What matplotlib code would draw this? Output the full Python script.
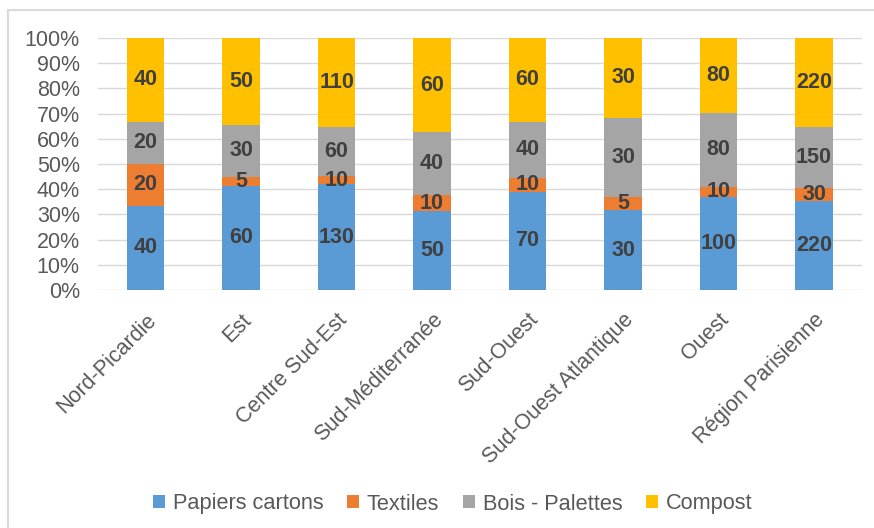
import numpy as np
import matplotlib.pyplot as plt
from matplotlib.patches import Rectangle

regions = ['Nord-Picardie', 'Est', 'Centre Sud-Est', 'Sud-Méditerranée',
           'Sud-Ouest', 'Sud-Ouest Atlantique', 'Ouest', 'Région Parisienne']
papiers = [40, 60, 130, 50, 70, 30, 100, 220]
textiles = [20, 5, 10, 10, 10, 5, 10, 30]
bois = [20, 30, 60, 40, 40, 30, 80, 150]
compost = [40, 50, 110, 60, 60, 30, 80, 220]

series = [('Papiers cartons', papiers, '#5B9BD5'),
          ('Textiles', textiles, '#ED7D31'),
          ('Bois - Palettes', bois, '#A5A5A5'),
          ('Compost', compost, '#FFC000')]

plt.rcParams['font.family'] = ['Liberation Sans', 'DejaVu Sans']

fig = plt.figure(figsize=(8.74, 5.28), dpi=100)
ax = fig.add_axes([0.112, 0.451, 0.874, 0.477])

# light border around the chart area
fig.patches.append(Rectangle((8 / 874, -0.05), 1.0, 1 - 10 / 528 + 0.05,
                             transform=fig.transFigure, fill=False,
                             edgecolor='#D9D9D9', linewidth=1.5))

x = np.arange(len(regions))
totals = np.sum([s[1] for s in series], axis=0)
bottom = np.zeros(len(regions))
for name, vals, col in series:
    frac = np.array(vals) / totals
    ax.bar(x, frac, 0.39, bottom=bottom, color=col, label=name, zorder=3)
    for xi, b, f, v in zip(x, bottom, frac, vals):
        ax.text(xi, b + f / 2, str(v), ha='center', va='center',
                fontsize=15.5, fontweight='bold', color='#404040', zorder=4)
    bottom += frac

ax.set_xlim(-0.5, len(regions) - 0.5)
ax.set_ylim(0, 1)
ax.set_yticks(np.arange(0, 1.01, 0.1))
ax.set_yticklabels([f'{int(round(t * 100))}%' for t in np.arange(0, 1.01, 0.1)])
ax.set_xticks(x)
ax.set_xticklabels(regions, rotation=45, ha='right', rotation_mode='anchor')
ax.tick_params(axis='both', length=0, labelsize=15.5, colors='#595959')
ax.tick_params(axis='x', pad=14)
ax.tick_params(axis='y', pad=13)
ax.yaxis.grid(True, color='#D9D9D9', linewidth=1, zorder=0)
for sp in ax.spines.values():
    sp.set_visible(False)

fig.legend(loc='center', bbox_to_anchor=(0.518, 1 - 504 / 528), ncol=4,
           frameon=False, fontsize=15.7, labelcolor='#595959',
           handlelength=0.55, handleheight=0.55, handletextpad=0.35,
           columnspacing=1.1)

fig.savefig('out.png', dpi=100)
plt.close(fig)
